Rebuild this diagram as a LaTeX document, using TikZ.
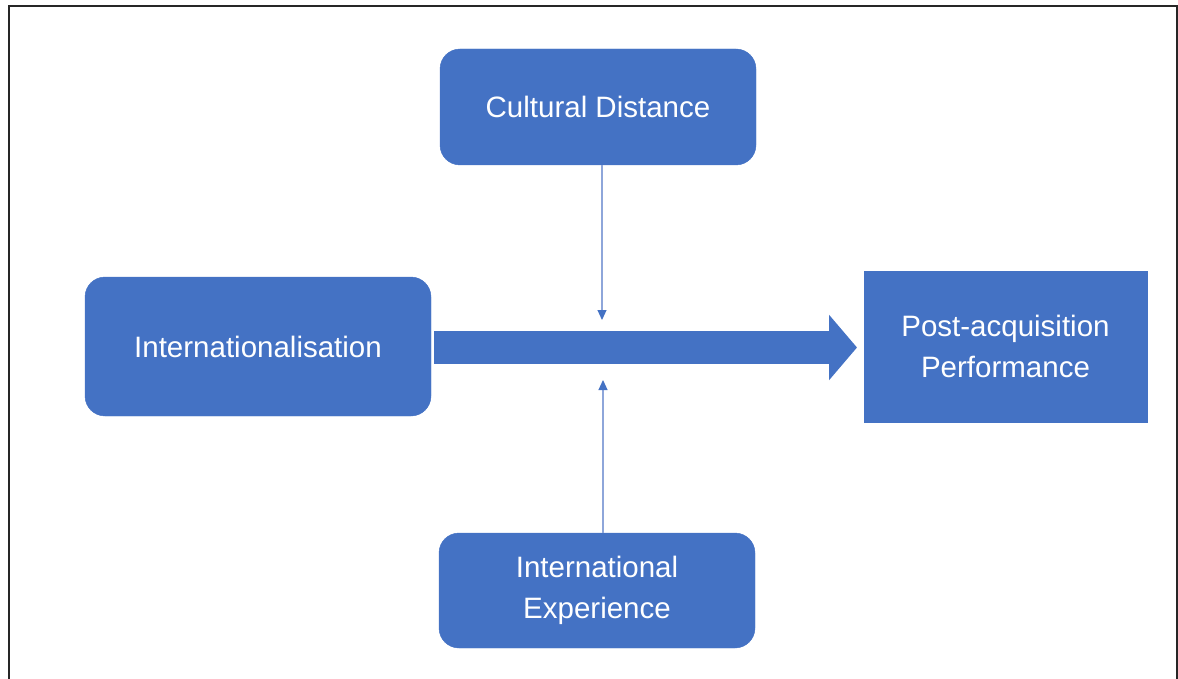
\documentclass[tikz,border=0pt]{standalone}
\usepackage{fontspec}
\setmainfont{Liberation Sans}
\usetikzlibrary{arrows.meta}
\definecolor{boxblue}{HTML}{4472C4}
\definecolor{thinblue}{HTML}{8EA6DA}
\begin{document}
\begin{tikzpicture}[x=1pt,y=-1pt,
  fac/.style={fill=boxblue, draw=boxblue, text=white, align=center,
    font=\fontsize{29.5}{41}\selectfont, inner sep=0pt},
  rbox/.style={fac, rounded corners=20pt},
  link/.style={draw=thinblue, line width=1.1pt,
    -{Triangle[length=10pt,width=9pt,fill=boxblue,color=boxblue]}},
  bigarrow/.style={draw=boxblue, line width=33pt,
    -{Triangle[length=28pt,width=64pt,fill=boxblue,color=boxblue]}}]
  \useasboundingbox (0,0) rectangle (1178,679);
  % frame
  \draw[line width=2pt, black!85] (9,679) -- (9,6) -- (1177,6) -- (1177,679);

  % factors
  \node[rbox, minimum width=316pt, minimum height=116pt] (cd) at (598,107) {Cultural Distance};
  \node[rbox, minimum width=346pt, minimum height=139pt] (intl) at (258,346.5) {Internationalisation};
  \node[rbox, minimum width=316pt, minimum height=115pt] (ie) at (597,590.5) {International\\Experience};
  \node[fac, minimum width=283pt, minimum height=151pt] (post) at (1005.5,346.5) {Post-acquisition\\Performance};

  % main effect
  \coordinate (shaftL) at (434,347.5);
  \coordinate (headTip) at (857,347.5);
  \draw[bigarrow] (shaftL) -- (headTip);

  % moderators
  \coordinate (cdTip) at (602,320);
  \coordinate (ieTip) at (603,380);
  \draw[link] (cd.south -| cdTip) -- (cdTip);
  \draw[link] (ie.north -| ieTip) -- (ieTip);
\end{tikzpicture}
\end{document}
